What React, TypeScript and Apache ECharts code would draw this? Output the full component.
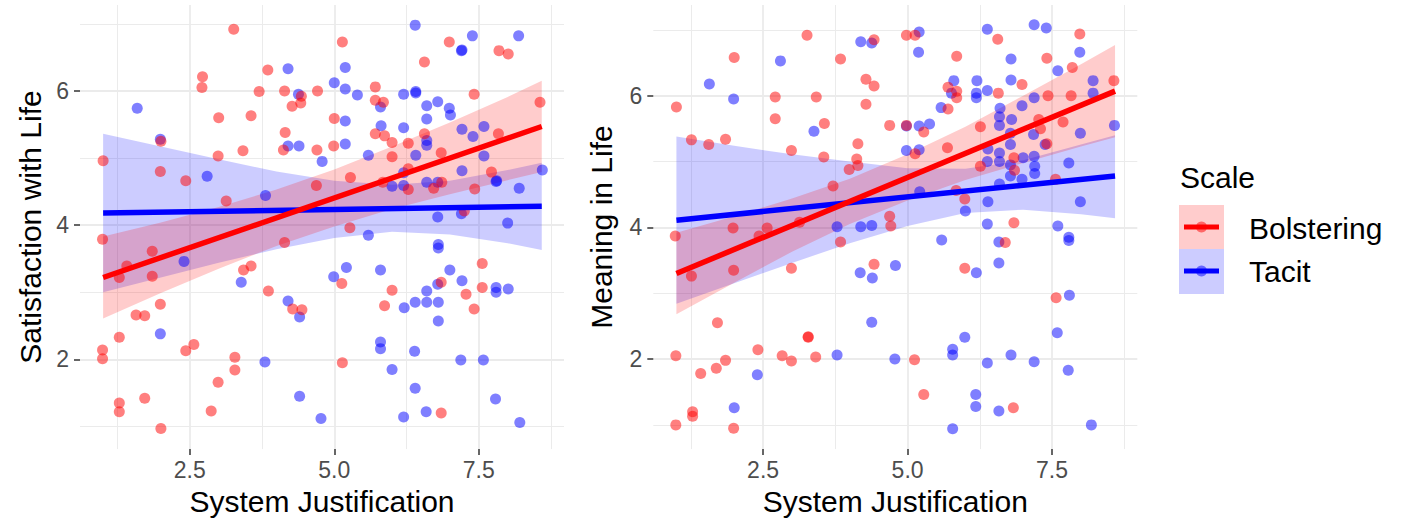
import React, { useEffect, useRef } from "react";
import * as echarts from "echarts";

// ---------- tick values ----------
const xMajor = [2.5, 5.0, 7.5];
const xMinor = [1.25, 3.75, 6.25, 8.75];
const yMajor = [2, 4, 6];
const yMinor = [1, 3, 5, 7];

const xTitle = "System Justification";
const leftYTitle = "Satisfaction with Life";
const rightYTitle = "Meaning in Life";
const legendTitle = "Scale";
const groupNames = ["Bolstering", "Tacit"];

// ---------- points: Satisfaction with Life ----------
const satBolstering: number[][] = [
  [3.26, 6.92], [3.85, 6.31], [2.72, 6.21], [2.71, 6.05], [3.7, 5.99], [4.14, 6.0], [4.71, 6.0],
  [4.43, 5.92], [4.42, 5.82], [4.27, 5.77], [3.0, 5.6], [3.56, 5.63], [4.15, 5.38], [4.12, 5.12],
  [2.99, 5.03], [3.42, 5.11], [4.7, 5.12], [1.0, 4.96], [2.0, 5.25], [1.99, 4.8], [2.43, 4.66],
  [3.13, 4.36], [4.69, 4.59],
  [5.14, 6.73], [6.99, 6.73], [7.85, 6.6], [8.01, 6.55], [6.56, 6.43], [5.71, 6.06], [5.71, 5.86],
  [5.85, 5.83], [7.42, 5.95], [8.56, 5.83], [5.0, 5.59], [5.71, 5.36], [5.87, 5.33], [6.0, 5.23],
  [6.28, 5.22], [6.56, 5.36], [4.99, 5.18], [6.0, 5.02], [6.85, 5.08], [7.84, 5.36], [5.28, 4.71],
  [5.84, 4.64], [6.28, 4.84], [6.28, 4.53], [6.72, 4.55], [6.86, 4.64], [7.72, 4.79], [7.43, 4.54],
  [7.25, 4.21], [5.27, 3.96],
  [0.99, 3.79], [1.85, 3.61], [1.41, 3.39], [1.28, 3.22], [1.85, 3.24], [3.43, 3.33], [3.56, 3.39],
  [4.14, 3.74], [3.86, 3.02], [1.99, 2.82], [1.57, 2.66], [1.72, 2.65], [4.28, 2.75], [4.44, 2.74],
  [1.28, 2.33], [0.99, 2.14], [0.99, 2.01], [2.43, 2.13], [2.57, 2.22], [3.28, 2.03], [3.28, 1.84],
  [2.99, 1.66], [1.28, 1.35], [1.28, 1.22], [1.72, 1.42], [2.87, 1.23], [2.0, 0.97],
  [5.13, 3.13], [6.0, 3.03], [5.87, 2.8], [6.85, 3.15], [7.56, 3.43], [7.56, 3.07], [7.28, 2.97],
  [7.42, 2.75], [5.14, 1.95], [6.85, 1.2],
];

const satTacit: number[][] = [
  [4.2, 6.33], [1.59, 5.74], [2.8, 4.73], [3.81, 4.44], [4.2, 5.18], [4.39, 5.18], [4.79, 4.95],
  [4.38, 5.95], [1.99, 5.28],
  [6.4, 6.98], [7.39, 6.82], [8.19, 6.82], [7.2, 6.6], [7.21, 6.61], [5.19, 6.35], [5.0, 6.12],
  [5.19, 6.03], [5.4, 5.94], [6.2, 5.95], [6.41, 5.97], [6.41, 5.99], [6.6, 5.78], [6.79, 5.84],
  [6.99, 5.74], [7.01, 5.64], [5.8, 5.76], [6.6, 5.58], [5.19, 5.55], [5.81, 5.48], [6.2, 5.45],
  [5.19, 5.21], [5.59, 5.04], [6.6, 5.26], [6.6, 5.19], [6.41, 5.04], [7.21, 5.43], [7.4, 5.32],
  [7.59, 5.47], [7.59, 5.03], [7.21, 4.81], [6.2, 4.78], [6.0, 4.58], [6.2, 4.59], [6.6, 4.64],
  [6.79, 4.64], [7.8, 4.65], [7.81, 4.66], [8.2, 4.55], [8.6, 4.82], [6.79, 4.12], [7.2, 4.17],
  [8.0, 4.03],
  [2.4, 3.46], [3.39, 3.15], [4.2, 2.87], [4.4, 2.63], [1.99, 2.38], [3.8, 1.96], [4.4, 1.45],
  [4.77, 1.12],
  [5.59, 3.85], [6.8, 3.71], [6.8, 3.66], [5.21, 3.37], [4.99, 3.23], [5.8, 3.33], [7.0, 3.33],
  [7.21, 3.17], [6.79, 3.12], [6.6, 3.02], [6.4, 2.85], [6.6, 2.85], [6.8, 2.85], [6.21, 2.77],
  [6.8, 2.57], [7.8, 3.07], [7.8, 3.0], [8.01, 3.05], [5.8, 2.26], [5.8, 2.16], [6.39, 2.12],
  [6.0, 1.85], [7.19, 1.99], [7.58, 1.99], [6.4, 1.57], [7.79, 1.41], [6.2, 1.14], [6.59, 1.22],
  [8.21, 1.06],
];

// ---------- points: Meaning in Life ----------
const meanBolstering: number[][] = [
  [3.26, 6.92], [2.0, 6.58], [4.42, 6.85], [3.84, 6.56], [1.0, 5.83], [2.71, 5.98], [3.42, 5.98],
  [4.28, 6.25], [4.42, 6.15], [4.28, 5.87], [2.71, 5.65], [3.56, 5.58], [4.69, 5.55], [1.26, 5.33],
  [1.56, 5.26], [1.85, 5.34], [2.99, 5.17], [3.55, 5.07], [4.14, 5.27], [4.12, 5.04], [4.14, 4.94],
  [3.99, 4.88], [3.71, 4.63], [3.13, 4.08], [2.57, 3.99], [1.98, 3.99], [4.69, 4.17],
  [4.98, 6.92], [5.13, 6.92], [6.56, 6.86], [7.98, 6.94], [5.85, 6.6], [7.41, 6.57], [7.85, 6.43],
  [8.57, 6.23], [6.98, 6.17], [5.7, 6.13], [5.85, 6.07], [5.85, 5.97], [5.7, 5.8], [6.57, 6.04],
  [7.43, 6.0], [7.83, 6.0], [4.98, 5.55], [5.28, 5.45], [6.26, 5.53], [7.27, 5.64],
  [7.3, 5.5], [7.69, 5.6], [5.69, 5.21], [5.13, 5.12], [7.41, 5.27], [6.84, 5.06], [6.26, 4.93],
  [6.85, 4.87], [7.56, 4.73], [5.84, 4.56], [5.99, 4.43], [4.71, 4.02], [6.84, 4.07],
  [0.98, 3.87], [2.43, 3.87], [3.84, 3.78], [1.26, 3.26], [1.99, 3.35], [2.99, 3.38], [4.42, 3.44],
  [1.71, 2.55], [3.28, 2.34], [3.28, 2.33], [0.99, 2.05], [1.85, 1.98], [1.69, 1.86], [1.42, 1.78],
  [2.41, 2.14], [2.83, 2.05], [2.99, 1.97], [3.41, 2.03], [1.28, 1.2], [1.28, 1.13], [0.99, 1.0],
  [1.99, 0.95],
  [6.69, 3.77], [5.99, 3.38], [7.57, 2.93], [5.12, 1.99], [5.28, 1.46], [6.83, 1.26],
];

const meanTacit: number[][] = [
  [4.19, 6.82], [4.38, 6.8], [2.8, 6.53], [1.57, 6.18], [1.99, 5.95], [3.38, 5.46], [3.78, 4.01],
  [4.19, 4.01], [4.38, 4.03],
  [5.2, 6.97], [6.38, 7.01], [7.19, 7.08], [7.4, 7.03], [5.19, 6.66], [6.79, 6.56], [7.98, 6.66],
  [7.6, 6.38], [5.8, 6.23], [6.2, 6.23], [6.79, 6.24], [5.76, 6.04], [6.19, 6.04], [6.19, 5.97],
  [6.38, 6.08], [5.58, 5.82], [6.6, 5.81], [8.21, 6.23], [8.21, 6.04], [7.19, 5.97], [6.98, 5.85],
  [6.59, 5.68], [6.8, 5.64], [6.59, 5.55], [4.98, 5.54], [5.2, 5.54], [5.38, 5.57], [6.78, 5.43],
  [7.18, 5.41], [7.99, 5.43], [8.58, 5.55], [7.38, 5.26], [6.78, 5.26], [6.39, 5.19], [4.98, 5.17],
  [5.2, 5.18], [6.38, 5.0], [6.59, 5.13], [6.59, 5.0], [7.0, 5.06], [7.19, 5.08], [6.78, 4.95],
  [7.2, 4.93], [7.2, 4.82], [6.78, 4.78], [6.98, 4.73], [7.79, 4.98], [6.59, 4.66], [5.21, 4.54],
  [6.39, 4.39], [7.99, 4.39], [6.0, 4.25], [6.38, 4.05], [7.6, 4.02],
  [4.18, 3.31], [4.39, 3.23], [4.38, 2.56], [3.78, 2.06], [2.4, 1.76], [2.0, 1.26],
  [5.59, 3.81], [6.58, 3.78], [7.79, 3.8], [7.79, 3.85], [4.79, 3.42], [6.58, 3.46], [6.19, 3.31],
  [7.8, 2.97], [7.59, 2.4], [5.99, 2.33], [5.78, 2.15], [5.78, 2.06], [4.78, 2.0], [6.38, 1.94],
  [6.79, 2.06], [7.19, 1.96], [7.78, 1.83], [6.18, 1.46], [6.18, 1.28], [6.58, 1.21], [5.78, 0.94],
  [8.18, 1.0],
];

// ---------- fitted lines ----------
const fitX = [1.0, 8.59];
const satBolsteringFit = [3.22, 5.47];
const satTacitFit = [4.18, 4.28];
const meanBolsteringFit = [3.3, 6.07];
const meanTacitFit = [4.11, 4.78];

// ---------- confidence bands ----------
const bandX = [1, 2, 3, 4, 5, 6, 7, 8, 8.59];
const satBolsteringLo = [2.61, 2.99, 3.35, 3.69, 3.98, 4.24, 4.46, 4.67, 4.79];
const satBolsteringHi = [3.83, 4.04, 4.27, 4.53, 4.83, 5.17, 5.53, 5.91, 6.15];
const satTacitLo = [3.0, 3.22, 3.44, 3.64, 3.81, 3.9, 3.86, 3.73, 3.63];
const satTacitHi = [5.36, 5.17, 4.98, 4.8, 4.66, 4.6, 4.66, 4.82, 4.93];
const meanBolsteringLo = [2.68, 3.16, 3.63, 4.05, 4.41, 4.72, 4.98, 5.23, 5.37];
const meanBolsteringHi = [3.92, 4.17, 4.44, 4.74, 5.11, 5.53, 6.0, 6.48, 6.77];
const meanTacitLo = [2.84, 3.15, 3.46, 3.76, 4.02, 4.22, 4.27, 4.2, 4.14];
const meanTacitHi = [5.38, 5.24, 5.11, 5.0, 4.9, 4.89, 5.02, 5.26, 5.4];

const RED = "#FF0000";
const BLUE = "#0000FF";
const FONT = "'Liberation Sans', Arial, Helvetica, sans-serif";
const TITLE_SIZE = 30;

function bandRows(lo: number[], hi: number[]) {
  return bandX.map((x, i) => [x, lo[i], hi[i]]);
}

function ribbon(gi: number, rows: number[][], fill: string) {
  return {
    type: "custom",
    xAxisIndex: gi,
    yAxisIndex: gi,
    data: rows,
    silent: true,
    clip: true,
    encode: { x: 0, y: [1, 2] },
    renderItem: (params: any, api: any) => {
      if (params.dataIndex !== 0) return null;
      const up = rows.map((r) => api.coord([r[0], r[2]]));
      const low = rows.slice().reverse().map((r) => api.coord([r[0], r[1]]));
      return {
        type: "polygon",
        shape: { points: up.concat(low) },
        style: { fill, stroke: "none" },
      };
    },
  };
}

function fitLine(gi: number, ys: number[], color: string) {
  return {
    type: "line",
    xAxisIndex: gi,
    yAxisIndex: gi,
    data: fitX.map((x, i) => [x, ys[i]]),
    symbol: "none",
    silent: true,
    lineStyle: { color, width: 5.5 },
  };
}

function points(gi: number, data: number[][], color: string) {
  return {
    type: "scatter",
    xAxisIndex: gi,
    yAxisIndex: gi,
    data,
    symbolSize: 11,
    silent: true,
    itemStyle: { color, opacity: 0.5 },
  };
}

const tickLabel = { color: "#4D4D4D", fontSize: 23, fontFamily: FONT };

function mainX(gi: number) {
  return {
    type: "value",
    gridIndex: gi,
    min: 0.6,
    max: 8.975,
    name: xTitle,
    nameLocation: "middle",
    nameGap: 35,
    nameTextStyle: { color: "#000", fontSize: TITLE_SIZE, fontFamily: FONT },
    axisLine: { show: false },
    axisTick: { show: true, length: 6, customValues: xMajor, lineStyle: { color: "#333333", width: 1.5 } },
    axisLabel: { ...tickLabel, margin: 9, customValues: xMajor, formatter: (v: number) => v.toFixed(1) },
    splitLine: { show: true, lineStyle: { color: "#EBEBEB", width: 1.8 } },
  };
}
function minorX(gi: number) {
  return {
    type: "value",
    gridIndex: gi,
    min: 0.6,
    max: 8.975,
    position: "bottom",
    axisLine: { show: false },
    axisTick: { show: false, customValues: xMinor },
    axisLabel: { show: false, customValues: xMinor },
    splitLine: { show: true, lineStyle: { color: "#EBEBEB", width: 1.0 } },
  };
}
function mainY(gi: number, min: number, max: number, title: string, gap: number) {
  return {
    type: "value",
    gridIndex: gi,
    min,
    max,
    name: title,
    nameLocation: "middle",
    nameRotate: 90,
    nameGap: gap,
    nameTextStyle: { color: "#000", fontSize: TITLE_SIZE, fontFamily: FONT },
    axisLine: { show: false },
    axisTick: { show: true, length: 6, customValues: yMajor, lineStyle: { color: "#333333", width: 1.5 } },
    axisLabel: { ...tickLabel, margin: 11, customValues: yMajor },
    splitLine: { show: true, lineStyle: { color: "#EBEBEB", width: 1.8 } },
  };
}
function minorY(gi: number, min: number, max: number) {
  return {
    type: "value",
    gridIndex: gi,
    min,
    max,
    position: "left",
    axisLine: { show: false },
    axisTick: { show: false, customValues: yMinor },
    axisLabel: { show: false, customValues: yMinor },
    splitLine: { show: true, lineStyle: { color: "#EBEBEB", width: 1.0 } },
  };
}

export default function App() {
  const ref = useRef<HTMLDivElement>(null);
  useEffect(() => {
    if (!ref.current) return;
    const chart = echarts.init(ref.current, null, { renderer: "svg" });
    const legendText = (text: string, x: number, y: number) => ({
      type: "text",
      x,
      y,
      style: { text, fontSize: TITLE_SIZE, fontFamily: FONT, fill: "#000", verticalAlign: "middle" },
    });
    const option: any = {
      animation: false,
      backgroundColor: "#FFFFFF",
      textStyle: { fontFamily: FONT },
      grid: [
        { left: 80, top: 5, width: 484, height: 445 },
        { left: 653.3, top: 5, width: 484, height: 445 },
      ],
      xAxis: [mainX(0), mainX(1), minorX(0), minorX(1)],
      yAxis: [
        mainY(0, 0.663, 7.28, leftYTitle, 35),
        mainY(1, 0.632, 7.379, rightYTitle, 37),
        minorY(0, 0.663, 7.28),
        minorY(1, 0.632, 7.379),
      ],
      series: [
        points(0, satTacit, BLUE),
        points(0, satBolstering, RED),
        ribbon(0, bandRows(satTacitLo, satTacitHi), "rgba(0,0,255,0.2)"),
        fitLine(0, satTacitFit, BLUE),
        ribbon(0, bandRows(satBolsteringLo, satBolsteringHi), "rgba(255,0,0,0.2)"),
        fitLine(0, satBolsteringFit, RED),

        points(1, meanTacit, BLUE),
        points(1, meanBolstering, RED),
        ribbon(1, bandRows(meanTacitLo, meanTacitHi), "rgba(0,0,255,0.2)"),
        fitLine(1, meanTacitFit, BLUE),
        ribbon(1, bandRows(meanBolsteringLo, meanBolsteringHi), "rgba(255,0,0,0.2)"),
        fitLine(1, meanBolsteringFit, RED),
      ],
      graphic: [
        legendText(legendTitle, 1180, 177),
        { type: "rect", shape: { x: 1179, y: 205, width: 45, height: 44 }, style: { fill: "rgba(255,0,0,0.2)" } },
        { type: "rect", shape: { x: 1179, y: 249, width: 45, height: 45 }, style: { fill: "rgba(0,0,255,0.2)" } },
        { type: "line", shape: { x1: 1184, y1: 227, x2: 1219, y2: 227 }, style: { stroke: RED, lineWidth: 5 } },
        { type: "line", shape: { x1: 1184, y1: 271, x2: 1219, y2: 271 }, style: { stroke: BLUE, lineWidth: 5 } },
        { type: "circle", shape: { cx: 1201.5, cy: 227, r: 5.5 }, style: { fill: "rgba(255,0,0,0.5)" } },
        { type: "circle", shape: { cx: 1201.5, cy: 271, r: 5.5 }, style: { fill: "rgba(0,0,255,0.5)" } },
        legendText(groupNames[0], 1249, 228),
        legendText(groupNames[1], 1249, 271),
      ],
    };
    chart.setOption(option);
    return () => chart.dispose();
  }, []);
  return (
    <div
      ref={ref}
      style={{ position: "fixed", left: 0, top: 0, width: 1403, height: 521, background: "#fff" }}
    />
  );
}
